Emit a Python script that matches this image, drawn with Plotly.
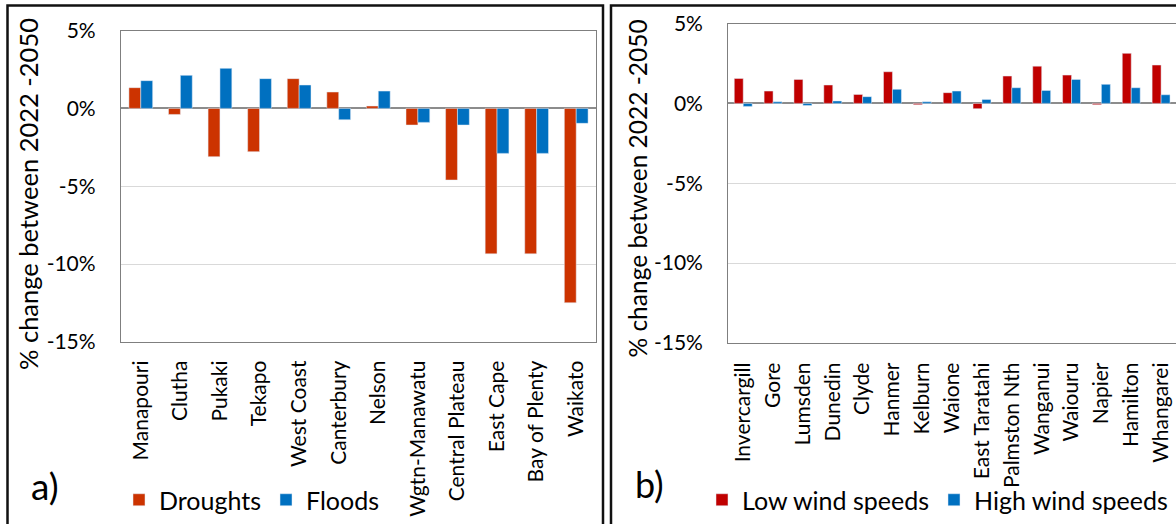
import plotly.graph_objects as go

W, H = 1176, 524

# ---------------- data ----------------
regions = ["Manapouri", "Clutha", "Pukaki", "Tekapo", "West Coast", "Canterbury",
           "Nelson", "Wgtn-Manawatu", "Central Plateau", "East Cape", "Bay of Plenty", "Waikato"]
droughts = [1.33, -0.39, -3.10, -2.78, 1.91, 1.05, 0.15, -1.07, -4.60, -9.34, -9.34, -12.48]
floods = [1.78, 2.12, 2.57, 1.91, 1.50, -0.73, 1.11, -0.90, -1.07, -2.89, -2.89, -0.96]

stations = ["Invercargill", "Gore", "Lumsden", "Dunedin", "Clyde", "Hanmer", "Kelburn",
            "Waione", "East Taratahi", "Palmston Nth", "Wanganui", "Waiouru", "Napier",
            "Hamilton", "Whangarei"]
low_wind = [1.56, 0.77, 1.50, 1.15, 0.56, 1.98, -0.08, 0.67, -0.33, 1.71, 2.33, 1.77, -0.08, 3.13, 2.40]
high_wind = [-0.19, 0.10, -0.13, 0.15, 0.42, 0.88, 0.10, 0.77, 0.25, 0.98, 0.81, 1.50, 1.19, 0.98, 0.54]

y_tick_vals = [5, 0, -5, -10, -15]
y_tick_text = ["5%", "0%", "-5%", "-10%", "-15%"]
y_title = "% change between 2022 -2050"

FONT = "Lato"


def px(x):
    return x / W


def py(y):
    return 1 - y / H


fig = go.Figure()
fig.add_trace(go.Bar(x=regions, y=droughts, name="Droughts", marker_color="#CC3300",
                     xaxis="x", yaxis="y", legend="legend"))
fig.add_trace(go.Bar(x=regions, y=floods, name="Floods", marker_color="#0070C0",
                     xaxis="x", yaxis="y", legend="legend"))
fig.add_trace(go.Bar(x=stations, y=low_wind, name="Low wind speeds", marker_color="#C00000",
                     xaxis="x2", yaxis="y2", legend="legend2"))
fig.add_trace(go.Bar(x=stations, y=high_wind, name="High wind speeds", marker_color="#0070C0",
                     xaxis="x2", yaxis="y2", legend="legend2"))


def xax(size, standoff):
    return dict(showline=True, linecolor="#7F7F7F", linewidth=1.3, mirror=True, showgrid=False,
                tickangle=-90, tickfont=dict(family=FONT, size=size, color="#000"),
                ticklabelstandoff=standoff, ticks="", zeroline=False)


ycommon = dict(range=[-15, 5], tickmode="array", tickvals=y_tick_vals, ticktext=y_tick_text,
               showgrid=True, gridcolor="#D9D9D9", gridwidth=1,
               zeroline=True, zerolinecolor="#8C8C8C", zerolinewidth=1.6,
               showline=True, linecolor="#7F7F7F", linewidth=1.3,
               tickfont=dict(family=FONT, size=21, color="#000"), ticklabelstandoff=20, ticks="")

fig.update_layout(
    width=W, height=H, margin=dict(l=0, r=0, t=0, b=0, autoexpand=False),
    paper_bgcolor="white", plot_bgcolor="white",
    barmode="group", bargap=0.4, bargroupgap=0,
    xaxis=dict(domain=[px(121), px(596)], anchor="y", range=[-0.5, 11.5], **xax(21, 9)),
    yaxis=dict(domain=[py(342), py(30.5)], anchor="x", mirror=True, **ycommon),
    xaxis2=dict(domain=[px(728.3), 1.0], anchor="y2", range=[-0.5, 14.5], **xax(21, 10)),
    yaxis2=dict(domain=[py(343), py(23.5)], anchor="x2", mirror=False, **ycommon),
    legend=dict(orientation="h", x=px(119), y=py(500), xanchor="left", yanchor="middle",
                font=dict(family=FONT, size=25, color="#000"), bgcolor="rgba(0,0,0,0)",
                itemwidth=30),
    legend2=dict(orientation="h", x=px(702), y=py(500), xanchor="left", yanchor="middle",
                 font=dict(family=FONT, size=25, color="#000"), bgcolor="rgba(0,0,0,0)",
                 itemwidth=30),
    showlegend=True,
)

annotations = [
    dict(text=y_title, x=px(28), y=py(194), font=dict(family=FONT, size=25.5, color="#000")),
    dict(text=y_title, x=px(636.5), y=py(188), font=dict(family=FONT, size=24.5, color="#000")),
]
fig.update_layout(annotations=[
    dict(xref="paper", yref="paper", xanchor="center", yanchor="middle", showarrow=False,
         textangle=-90, **a) for a in annotations
] + [
    dict(text="a)", xref="paper", yref="paper", x=px(45), y=py(485), xanchor="center",
         yanchor="middle", showarrow=False, font=dict(family=FONT, size=37, color="#000")),
    dict(text="b)", xref="paper", yref="paper", x=px(649), y=py(484), xanchor="center",
         yanchor="middle", showarrow=False, font=dict(family=FONT, size=36, color="#000")),
])

# panel frames
fig.add_shape(type="rect", xref="paper", yref="paper", x0=px(7.5), x1=px(603), y0=py(5.5), y1=py(540),
              line=dict(color="#111", width=2.5), layer="above")
fig.add_shape(type="rect", xref="paper", yref="paper", x0=px(611), x1=px(1200), y0=py(5.5), y1=py(540),
              line=dict(color="#111", width=2.5), layer="above")

fig.write_html("out.html", config={"displayModeBar": False},
               post_script="document.body.style.margin='0';document.body.style.overflow='hidden';")
